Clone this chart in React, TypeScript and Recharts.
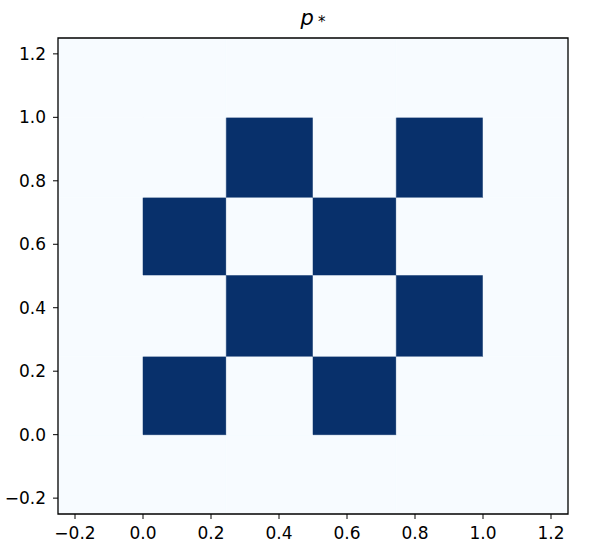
import { ScatterChart, Scatter, XAxis, YAxis, ReferenceArea } from 'recharts'

// cell edges of the image (the pixel grid makes the inner edges sit a bit off 0.25 steps)
const xEdges = [-0.25, 0, 0.245, 0.5, 0.745, 1.0, 1.25]
const yEdges = [-0.25, 0, 0.247, 0.503, 0.748, 1.0, 1.25]

// p* values, row 0 = bottom row (y from -0.25)
const values = [
  [0, 0, 0, 0, 0, 0],
  [0, 1, 0, 1, 0, 0],
  [0, 0, 1, 0, 1, 0],
  [0, 1, 0, 1, 0, 0],
  [0, 0, 1, 0, 1, 0],
  [0, 0, 0, 0, 0, 0],
]

const xTicks = [-0.2, 0, 0.2, 0.4, 0.6, 0.8, 1.0, 1.2]
const yTicks = [-0.2, 0, 0.2, 0.4, 0.6, 0.8, 1.0, 1.2]

const LOW = '#f7fbff'
const HIGH = '#08306b'

const fmt = (v: number) => v.toFixed(1).replace('-', '\u2212')

const cells = values.flatMap((row, j) =>
  row.map((v, i) => ({
    x1: xEdges[i],
    x2: xEdges[i + 1],
    y1: yEdges[j],
    y2: yEdges[j + 1],
    v,
  }))
)

export default function App() {
  const font = { fontFamily: 'DejaVu Sans', fontSize: 17, fill: '#000' }
  return (
    <div style={{ position: 'absolute', left: 0, top: 0, width: 592, height: 547, background: '#fff' }}>
      <div
        style={{
          position: 'absolute',
          left: 0,
          width: 626,
          top: 6,
          textAlign: 'center',
          fontFamily: 'DejaVu Sans',
          fontSize: 21,
          color: '#000',
        }}
      >
        <span style={{ fontStyle: 'italic' }}>p</span>
        <span style={{ fontSize: 15, marginLeft: 4, position: 'relative', top: 2 }}>*</span>
      </div>
      <ScatterChart width={592} height={547} margin={{ top: 38, right: 24, bottom: 0, left: 0 }}>
        <XAxis
          type="number"
          dataKey="x"
          domain={[-0.25, 1.25]}
          ticks={xTicks}
          tickFormatter={fmt}
          axisLine={false}
          tickSize={5}
          tickMargin={8}
          height={33}
          tick={font}
          tickLine={{ stroke: '#000' }}
          allowDataOverflow
        />
        <YAxis
          type="number"
          dataKey="y"
          domain={[-0.25, 1.25]}
          ticks={yTicks}
          tickFormatter={fmt}
          axisLine={false}
          tickSize={5}
          tickMargin={7}
          width={58}
          tick={font}
          tickLine={{ stroke: '#000' }}
          allowDataOverflow
        />
        {cells.map((c, k) => (
          <ReferenceArea
            key={k}
            x1={c.x1}
            x2={c.x2}
            y1={c.y1}
            y2={c.y2}
            fill={c.v ? HIGH : LOW}
            fillOpacity={1}
            stroke={c.v ? HIGH : LOW}
            strokeWidth={0.5}
          />
        ))}
        <ReferenceArea
          x1={-0.25}
          x2={1.25}
          y1={-0.25}
          y2={1.25}
          fill="none"
          stroke="#000"
          strokeWidth={1.3}
        />
        <Scatter data={[]} isAnimationActive={false} />
      </ScatterChart>
    </div>
  )
}
